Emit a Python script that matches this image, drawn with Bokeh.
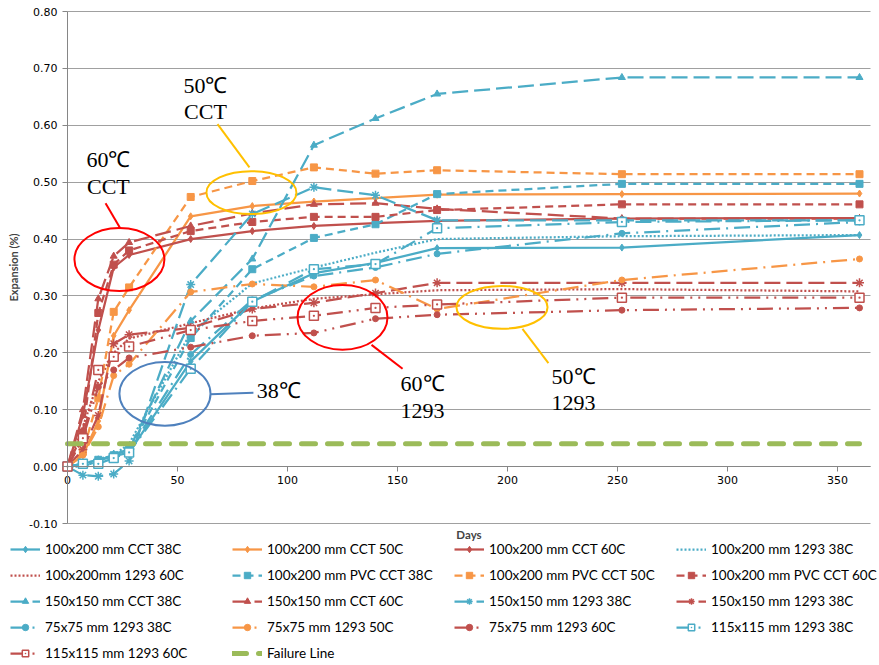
from bokeh.plotting import figure
from bokeh.models import Range1d, FixedTicker, NumeralTickFormatter, Legend, LegendItem, Label
from bokeh.embed import file_html
from bokeh.resources import INLINE

# ---------------- data ----------------
days = [0, 7, 14, 21, 28, 56, 84, 112, 140, 168, 252, 360]

cct_100x200_38 = [0, 0.005, 0.012, 0.018, 0.025, 0.185, 0.290, 0.340, 0.358, 0.384, 0.385, 0.407]
cct_100x200_50 = [0, 0.020, 0.080, 0.230, 0.275, 0.440, 0.458, 0.466, 0.472, 0.478, 0.479, 0.480]
cct_100x200_60 = [0, 0.090, 0.240, 0.350, 0.372, 0.400, 0.414, 0.423, 0.428, 0.432, 0.436, 0.437]
c1293_100x200_38 = [0, 0.000, 0.010, 0.020, 0.040, 0.235, 0.322, 0.350, 0.376, 0.400, 0.405, 0.407]
c1293_100x200_60 = [0, 0.070, 0.150, 0.200, 0.225, 0.252, 0.278, 0.295, 0.303, 0.310, 0.312, 0.308]
pvc_100x200_38 = [0, 0.005, 0.012, 0.020, 0.030, 0.226, 0.347, 0.402, 0.426, 0.479, 0.497, 0.497]
pvc_100x200_50 = [0, 0.026, 0.120, 0.272, 0.315, 0.474, 0.502, 0.526, 0.515, 0.521, 0.514, 0.514]
pvc_100x200_60 = [0, 0.060, 0.270, 0.355, 0.380, 0.414, 0.430, 0.439, 0.439, 0.451, 0.461, 0.461]
cct_150x150_38 = [0, 0.005, 0.012, 0.022, 0.030, 0.256, 0.365, 0.565, 0.612, 0.655, 0.684, 0.684]
cct_150x150_60 = [0, 0.100, 0.295, 0.370, 0.394, 0.423, 0.445, 0.461, 0.463, 0.453, 0.436, 0.436]
c1293_150x150_38 = [0, -0.015, -0.017, -0.013, 0.010, 0.320, 0.444, 0.491, 0.477, 0.433, 0.433, 0.433]
c1293_150x150_38r = [0, 0.030, 0.090, 0.216, 0.232, 0.244, 0.277, 0.288, 0.305, 0.323, 0.323, 0.323]
c1293_75x75_38 = [0, 0.003, 0.010, 0.020, 0.028, 0.197, 0.293, 0.335, 0.350, 0.374, 0.410, 0.430]
c1293_75x75_50 = [0, 0.020, 0.070, 0.160, 0.180, 0.307, 0.321, 0.316, 0.328, 0.277, 0.328, 0.365]
c1293_75x75_60 = [0, 0.050, 0.140, 0.170, 0.191, 0.210, 0.230, 0.235, 0.260, 0.267, 0.275, 0.279]
c1293_115x115_38 = [0, 0.005, 0.005, 0.015, 0.025, 0.172, 0.290, 0.347, 0.356, 0.419, 0.430, 0.433]
c1293_115x115_60 = [0, 0.050, 0.170, 0.193, 0.211, 0.240, 0.256, 0.265, 0.279, 0.285, 0.297, 0.297]
failure_days = [0, 360]
failure_line = [0.04, 0.04]

y_ticks = [-0.10, 0.0, 0.10, 0.20, 0.30, 0.40, 0.50, 0.60, 0.70, 0.80]
x_ticks = [0, 50, 100, 150, 200, 250, 300, 350]

# ---------------- styles ----------------
BLUE = "#4BACC6"
ORANGE = "#F79646"
RED = "#C0504D"
GREEN = "#9BBB59"

SOLID = "solid"
DOT = "2 2"
DASH = "8 5"
LDASH = "16 6"
LDD = "16 6 2 6"
LDDD = "16 6 2 6 2 6"

series = [
    ("100x200 mm CCT 38C", cct_100x200_38, BLUE, SOLID, "diamond", 7),
    ("100x200 mm CCT 50C", cct_100x200_50, ORANGE, SOLID, "diamond", 7),
    ("100x200 mm CCT 60C", cct_100x200_60, RED, SOLID, "diamond", 7),
    ("100x200 mm 1293 38C", c1293_100x200_38, BLUE, DOT, None, 0),
    ("100x200mm 1293 60C", c1293_100x200_60, RED, DOT, None, 0),
    ("100x200 mm PVC CCT 38C", pvc_100x200_38, BLUE, DASH, "square", 7),
    ("100x200 mm PVC CCT 50C", pvc_100x200_50, ORANGE, DASH, "square", 7),
    ("100x200 mm PVC CCT 60C", pvc_100x200_60, RED, DASH, "square", 7),
    ("150x150 mm CCT 38C", cct_150x150_38, BLUE, LDASH, "triangle", 7),
    ("150x150 mm CCT 60C", cct_150x150_60, RED, LDASH, "triangle", 7),
    ("150x150 mm 1293 38C", c1293_150x150_38, BLUE, LDASH, "asterisk", 9),
    ("150x150 mm 1293 38C", c1293_150x150_38r, RED, LDASH, "asterisk", 9),
    ("75x75 mm 1293 38C", c1293_75x75_38, BLUE, LDD, "circle", 6),
    ("75x75 mm 1293 50C", c1293_75x75_50, ORANGE, LDD, "circle", 6),
    ("75x75 mm 1293 60C", c1293_75x75_60, RED, LDDD, "circle", 6),
    ("115x115 mm 1293 38C", c1293_115x115_38, BLUE, LDD, "square_dot", 9),
    ("115x115 mm 1293 60C", c1293_115x115_60, RED, LDDD, "square_dot", 9),
]

# Frame covers the whole canvas; plot area is 67..870 px x 11..523 px
PX_PER_DAY = 2.2
PX_PER_UNIT = 512 / 0.9
x_lo = -67 / PX_PER_DAY
x_hi = 365 + 9 / PX_PER_DAY
y_hi = 0.80 + 11 / PX_PER_UNIT
y_lo = -0.10 - 142 / PX_PER_UNIT

p = figure(width=879, height=665, x_range=Range1d(x_lo, x_hi), y_range=Range1d(y_lo, y_hi),
           output_backend="svg", toolbar_location=None,
           min_border_left=0, min_border_right=0, min_border_top=0, min_border_bottom=0)
p.outline_line_color = None

# axes
p.xaxis.fixed_location = 0
p.yaxis.fixed_location = 0
p.xaxis.bounds = (0, 365)
p.yaxis.bounds = (-0.10, 0.80)
p.xaxis.ticker = FixedTicker(ticks=x_ticks)
p.yaxis.ticker = FixedTicker(ticks=y_ticks)
p.yaxis.formatter = NumeralTickFormatter(format="0.00")
for ax in (p.xaxis[0], p.yaxis[0]):
    ax.axis_line_color = "#868686"
    ax.major_tick_line_color = "#868686"
    ax.major_tick_out = 5
    ax.major_tick_in = 0
    ax.minor_tick_line_color = None
    ax.major_label_text_font = "DejaVu Sans"
    ax.major_label_text_font_size = "11px"
    ax.major_label_text_color = "#000000"
p.xaxis.major_label_standoff = 4
p.yaxis.major_label_standoff = 5
p.yaxis.axis_label = "Expansion (%)"
p.yaxis.axis_label_text_font = "Lato"
p.yaxis.axis_label_text_font_style = "bold"
p.yaxis.axis_label_text_font_size = "11px"
p.yaxis.axis_label_standoff = 6
p.xgrid.grid_line_color = None
grid = p.ygrid[0]
grid.ticker = FixedTicker(ticks=y_ticks)
if "cross_bounds" in grid.properties():
    grid.cross_bounds = (0, 365)
    grid.grid_line_color = "#A0A0A0"
    grid.grid_line_width = 1
else:
    grid.grid_line_color = None
    p.segment(x0=0, x1=365, y0=y_ticks, y1=y_ticks, line_color="#A0A0A0", line_width=1)

p.add_layout(Label(x=182.5, y=-0.10, y_offset=-11, text="Days", text_font="Lato",
                   text_font_style="bold", text_font_size="11.5px",
                   text_align="center", text_baseline="middle"))

items = []
for label, vals, color, dash, marker, size in series:
    rs = [p.line(days, vals, line_color=color, line_width=2.25, line_dash=dash)]
    if marker is not None:
        fill = "white" if marker == "square_dot" else color
        lw = 1.5 if marker in ("asterisk", "square_dot") else 1
        rs.append(p.scatter(days, vals, marker=marker, size=size, line_color=color,
                            fill_color=fill, line_width=lw))
    items.append(LegendItem(label=label, renderers=rs))

rf = p.line(failure_days, failure_line, line_color=GREEN, line_width=5, line_dash="14 12", line_cap="round")
items.append(LegendItem(label="Failure Line", renderers=[rf]))

legend = Legend(items=items, orientation="horizontal", ncols=4, location=(10, 4),
                glyph_width=30, glyph_height=16, label_height=16, label_width=177,
                label_standoff=5, spacing=10, padding=0, margin=0,
                border_line_color=None, background_fill_alpha=0,
                label_text_font="Lato", label_text_font_size="13.5px", label_text_color="#000000")
p.add_layout(legend, "center")

# ---------------- annotations ----------------
ann_font = "Liberation Serif"
def callout(cx, cy, w, h, col, x0, y0, x1, y1, lines, tx, tys):
    p.ellipse(x=[cx], y=[cy], width=w, height=h, fill_color=None, line_color=col, line_width=2)
    p.line([x0, x1], [y0, y1], line_color=col, line_width=2)
    for t, ty in zip(lines, tys):
        p.add_layout(Label(x=tx, y=ty, text=t, text_font=ann_font, text_font_size="22px",
                           text_align="center", text_baseline="middle", text_color="#000000"))

callout(23.6, 0.364, 40.9, 0.111, "#FF0000", 17.3, 0.463, 24.1, 0.418,
        ["60℃", "CCT"], 18.6, [0.540, 0.493])
callout(83.6, 0.4816, 40.9, 0.0754, "#FFC000", 68.2, 0.602, 82.7, 0.526,
        ["50℃", "CCT"], 62.7, [0.670, 0.625])
callout(44.3, 0.128, 41.4, 0.112, "#4F81BD", 65.0, 0.127, 84.5, 0.130,
        ["38℃"], 96.0, [0.133])
callout(125.0, 0.2623, 40.9, 0.114, "#FF0000", 138.2, 0.214, 152.3, 0.172,
        ["60℃", "1293"], 161.4, [0.146, 0.098])
callout(197.5, 0.280, 41.4, 0.0754, "#FFC000", 206.8, 0.242, 218.6, 0.182,
        ["50℃", "1293"], 230.0, [0.158, 0.111])

open("out.html", "w").write(file_html(p, INLINE))
